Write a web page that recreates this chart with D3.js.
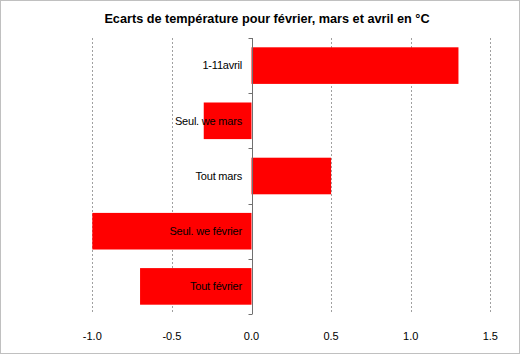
<!DOCTYPE html>
<html><head><meta charset="utf-8">
<script src="https://cdn.jsdelivr.net/npm/d3@7"></script>
<style>body{margin:0;background:#fff}svg{display:block}</style>
</head><body>
<svg id="c" width="521" height="355"></svg>
<script>
const categories = ["1-11avril", "Seul. we mars", "Tout mars", "Seul. we février", "Tout février"];
const values = [1.3, -0.3, 0.5, -1.0, -0.7];
const xTicks = [-1.0, -0.5, 0.0, 0.5, 1.0, 1.5];
const title = "Ecarts de température pour février, mars et avril en °C";

const svg = d3.select("#c");
const font = "Liberation Sans, Arial, sans-serif";

svg.append("rect").attr("x",0.5).attr("y",0.5).attr("width",519).attr("height",353)
  .attr("fill","#fff").attr("stroke","#808080").attr("stroke-dasharray","1,1");

const x = d3.scaleLinear().domain([-1, 1.5]).range([92.3, 490.3]);
const y = d3.scaleBand().domain(categories).range([38, 314]).paddingInner(0.337).paddingOuter(0.337/2);

// gridlines
svg.append("g").selectAll("line").data(xTicks.filter(t => t !== 0)).join("line")
  .attr("x1", d => Math.round(x(d)) + 0.5).attr("x2", d => Math.round(x(d)) + 0.5)
  .attr("y1", 38).attr("y2", 314)
  .attr("stroke", "#a0a0a0").attr("stroke-dasharray", "2,2");

// bars
svg.append("g").selectAll("rect").data(values).join("rect")
  .attr("x", d => x(Math.min(0, d)))
  .attr("width", d => Math.abs(x(d) - x(0)))
  .attr("y", (d, i) => y(categories[i]))
  .attr("height", y.bandwidth())
  .attr("fill", "#ff0000");

// y axis line at zero with category boundary ticks
const x0 = Math.round(x(0)) + 0.5;
svg.append("line").attr("x1", x0).attr("x2", x0).attr("y1", 38).attr("y2", 314)
  .attr("stroke", "#707070");
const bounds = [38].concat(categories.map(c => y(c) + y.bandwidth() + y.step()*y.paddingInner()/2));
bounds[bounds.length-1] = 314;
svg.append("g").selectAll("line").data(bounds).join("line")
  .attr("x1", x0 - 4).attr("x2", x0).attr("y1", d => Math.round(d) + 0.5).attr("y2", d => Math.round(d) + 0.5)
  .attr("stroke", "#707070");

// category labels
svg.append("g").selectAll("text").data(categories).join("text")
  .attr("x", 242).attr("y", d => y(d) + y.bandwidth()/2)
  .attr("dy", "0.35em").attr("text-anchor", "end")
  .attr("font-family", font).attr("font-size", 11).attr("letter-spacing", "-0.2")
  .attr("fill", "#000").text(d => d);

// x tick labels
svg.append("g").selectAll("text").data(xTicks).join("text")
  .attr("x", d => x(d)).attr("y", 336).attr("dy", "0.35em").attr("text-anchor", "middle")
  .attr("font-family", font).attr("font-size", 11).attr("fill", "#000")
  .text(d => d3.format(".1f")(d).replace("\u2212", "-"));

// title
svg.append("text").attr("x", 267).attr("y", 19).attr("dy", "0.35em").attr("text-anchor", "middle")
  .attr("font-family", font).attr("font-size", 12.7).attr("font-weight", "bold").attr("fill", "#000")
  .text(title);
</script>
</body></html>
